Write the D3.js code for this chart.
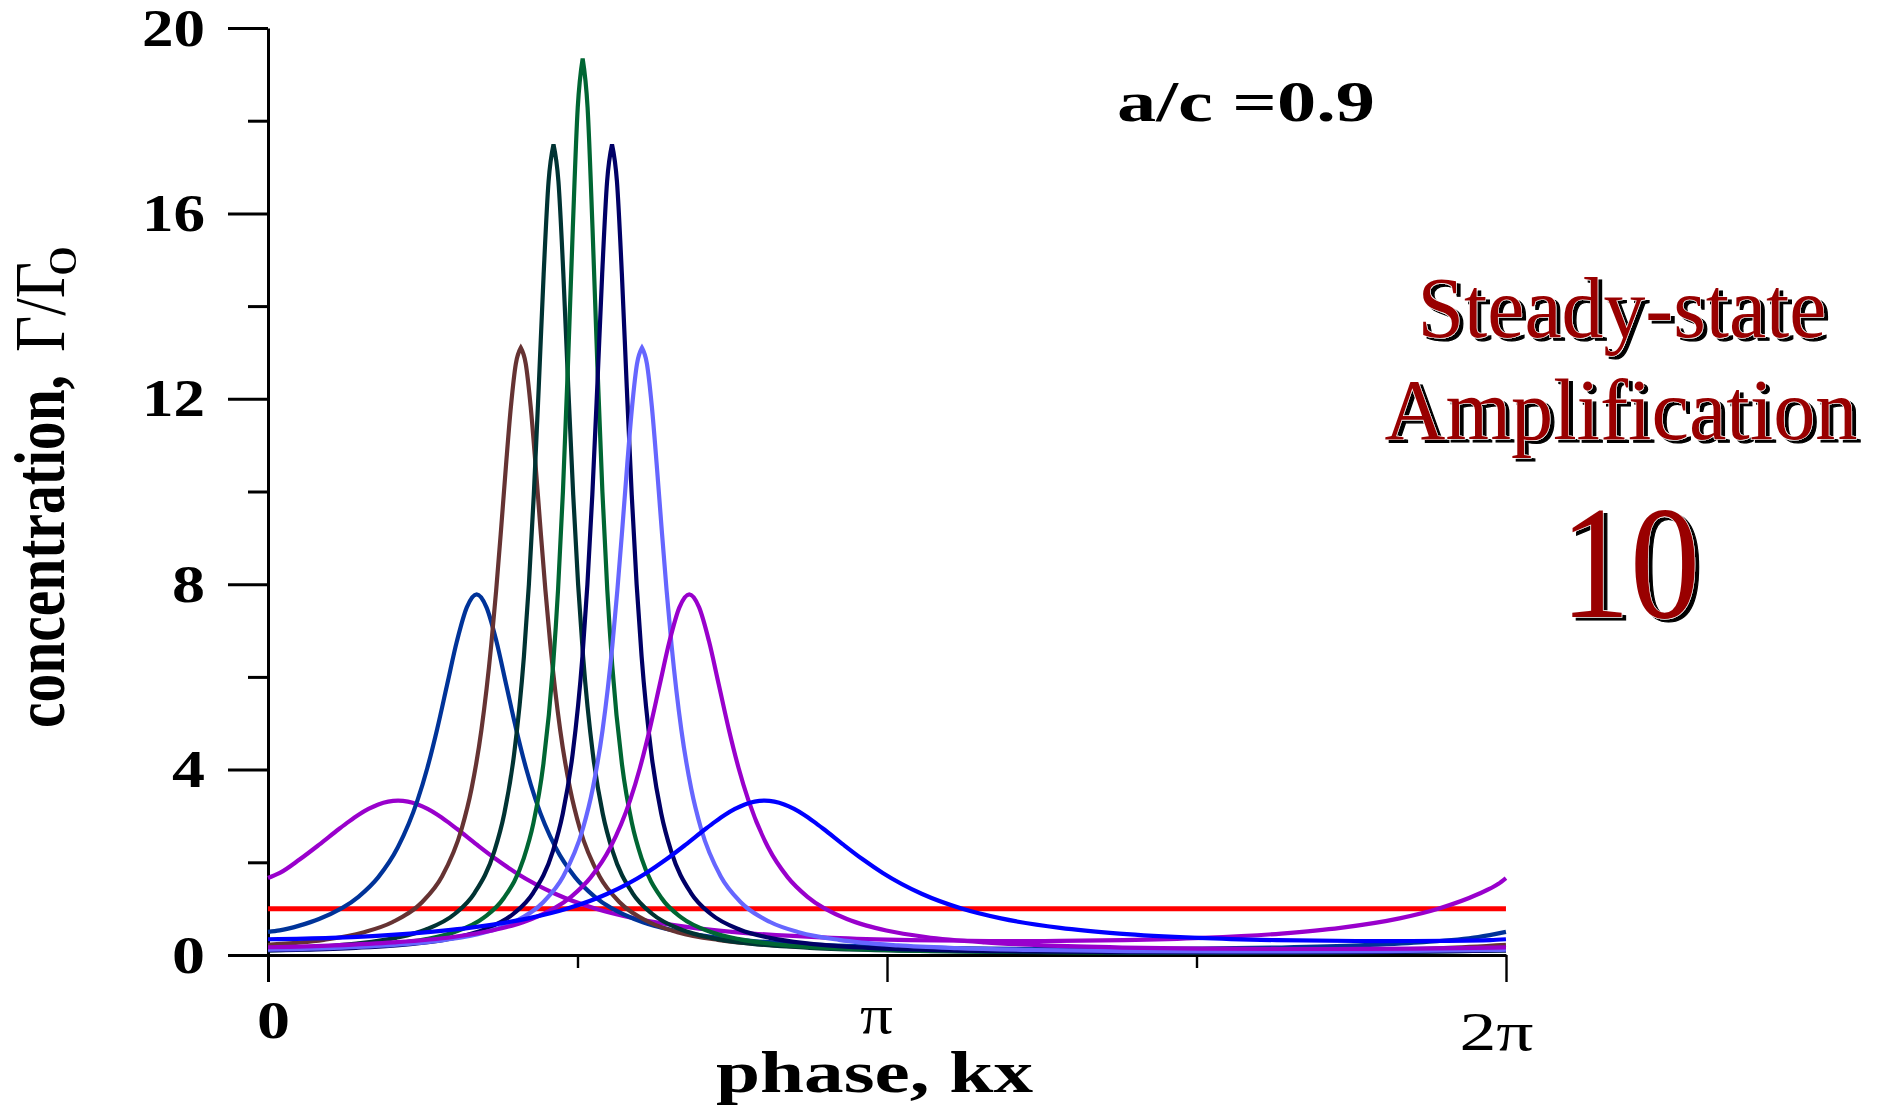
<!DOCTYPE html>
<html>
<head>
<meta charset="utf-8">
<script src="https://cdn.jsdelivr.net/npm/d3@7"></script>
<style>
  html, body { margin: 0; padding: 0; background: #ffffff; }
  svg { display: block; }
</style>
</head>
<body>
<svg id="chart" width="1879" height="1110"></svg>
<script>
const TAU = 2 * Math.PI;

// Axis ticks
const phaseMajorTicks = [0, Math.PI, TAU];
const phaseMajorLabels = ["0", "π", "2π"];
const phaseMinorTicks = [Math.PI / 2, 3 * Math.PI / 2];
const concMajorTicks = [0, 4, 8, 12, 16, 20];
const concMinorTicks = [2, 6, 10, 14, 18];

// Uniform reference level Γ/Γ0 = 1
const meanLevel = [[0, 1], [6.283, 1]];

// Concentration profiles [phase kx, Γ/Γ0], one per snapshot
const snapshot1 = [[0,1.66],[0.06,1.770],[0.16,2.059],[0.26,2.381],[0.36,2.718],[0.41,2.878],[0.46,3.026],[0.51,3.151],[0.56,3.248],[0.61,3.309],[0.66,3.330],[0.71,3.309],[0.76,3.248],[0.81,3.151],[0.86,3.026],[0.91,2.878],[0.96,2.718],[1.06,2.381],[1.16,2.059],[1.26,1.770],[1.46,1.316],[1.66,1.003],[1.86,0.790],[2.16,0.586],[2.46,0.463],[2.86,0.369],[3.26,0.321],[3.66,0.302],[3.80,0.300],[3.943,0.302],[4.343,0.321],[4.743,0.369],[5.143,0.463],[5.443,0.586],[5.743,0.790],[5.943,1.003],[6.143,1.316],[6.243,1.53],[6.283,1.66]];
const snapshot2 = [[0,0.50],[0.059,0.530],[0.159,0.634],[0.259,0.776],[0.459,1.255],[0.559,1.675],[0.659,2.323],[0.759,3.340],[0.809,4.041],[0.859,4.883],[0.909,5.831],[0.959,6.773],[1.009,7.500],[1.059,7.78],[1.109,7.500],[1.159,6.773],[1.209,5.831],[1.259,4.883],[1.309,4.041],[1.359,3.340],[1.459,2.323],[1.559,1.675],[1.659,1.255],[1.859,0.776],[1.959,0.634],[2.059,0.530],[2.259,0.389],[2.559,0.272],[2.859,0.207],[3.259,0.161],[3.659,0.138],[4.059,0.129],[4.201,0.129],[4.342,0.129],[4.742,0.138],[5.142,0.161],[5.542,0.207],[5.842,0.272],[6.142,0.389],[6.283,0.50]];
const snapshot3 = [[0,0.22],[0.283,0.326],[0.483,0.487],[0.633,0.712],[0.783,1.145],[0.883,1.693],[0.983,2.723],[1.033,3.587],[1.083,4.851],[1.133,6.691],[1.158,7.866],[1.183,9.187],[1.208,10.57],[1.233,11.84],[1.258,12.76],[1.283,13.10],[1.308,12.76],[1.333,11.84],[1.358,10.57],[1.383,9.187],[1.408,7.866],[1.433,6.691],[1.483,4.851],[1.533,3.587],[1.583,2.723],[1.683,1.693],[1.783,1.145],[1.933,0.712],[2.083,0.487],[2.283,0.326],[2.583,0.206],[2.883,0.148],[3.283,0.108],[3.783,0.085],[4.283,0.077],[4.425,0.076],[4.566,0.077],[5.066,0.085],[5.566,0.108],[5.966,0.148],[6.283,0.22]];
const snapshot4 = [[0,0.130],[0.149,0.155],[0.449,0.246],[0.649,0.370],[0.799,0.545],[0.949,0.890],[1.049,1.342],[1.149,2.240],[1.199,3.048],[1.249,4.331],[1.299,6.450],[1.324,7.989],[1.349,9.928],[1.374,12.24],[1.399,14.69],[1.424,16.69],[1.449,17.49],[1.474,16.69],[1.499,14.69],[1.524,12.24],[1.549,9.928],[1.574,7.989],[1.599,6.450],[1.649,4.331],[1.699,3.048],[1.749,2.240],[1.849,1.342],[1.949,0.890],[2.099,0.545],[2.249,0.370],[2.449,0.246],[2.749,0.155],[3.049,0.111],[3.449,0.081],[3.949,0.064],[4.449,0.058],[4.591,0.057],[4.732,0.058],[5.232,0.064],[5.732,0.081],[6.132,0.111],[6.283,0.130]];
const snapshot5 = [[0,0.100],[0.297,0.141],[0.597,0.223],[0.797,0.336],[0.947,0.495],[1.097,0.811],[1.197,1.229],[1.297,2.072],[1.347,2.844],[1.397,4.098],[1.447,6.248],[1.472,7.875],[1.497,10.01],[1.522,12.69],[1.547,15.68],[1.572,18.28],[1.597,19.34],[1.622,18.28],[1.647,15.68],[1.672,12.69],[1.697,10.01],[1.722,7.875],[1.747,6.248],[1.797,4.098],[1.847,2.844],[1.897,2.072],[1.997,1.229],[2.097,0.811],[2.247,0.495],[2.397,0.336],[2.597,0.223],[2.897,0.141],[3.197,0.100],[3.597,0.073],[4.097,0.057],[4.597,0.052],[4.739,0.052],[4.880,0.052],[5.380,0.057],[5.880,0.073],[6.283,0.100]];
const snapshot6 = [[0,0.097],[0.146,0.111],[0.446,0.155],[0.746,0.246],[0.946,0.370],[1.096,0.545],[1.246,0.890],[1.346,1.342],[1.446,2.240],[1.496,3.048],[1.546,4.331],[1.596,6.450],[1.621,7.989],[1.646,9.928],[1.671,12.24],[1.696,14.69],[1.721,16.69],[1.746,17.49],[1.771,16.69],[1.796,14.69],[1.821,12.24],[1.846,9.928],[1.871,7.989],[1.896,6.450],[1.946,4.331],[1.996,3.048],[2.046,2.240],[2.146,1.342],[2.246,0.890],[2.396,0.545],[2.546,0.370],[2.746,0.246],[3.046,0.155],[3.346,0.111],[3.746,0.081],[4.246,0.064],[4.746,0.058],[4.888,0.057],[5.029,0.058],[5.529,0.064],[6.029,0.081],[6.283,0.097]];
const snapshot7 = [[0,0.115],[0.298,0.148],[0.598,0.206],[0.898,0.326],[1.098,0.487],[1.248,0.712],[1.398,1.145],[1.498,1.693],[1.598,2.723],[1.648,3.587],[1.698,4.851],[1.748,6.691],[1.773,7.866],[1.798,9.187],[1.823,10.57],[1.848,11.84],[1.873,12.76],[1.898,13.10],[1.923,12.76],[1.948,11.84],[1.973,10.57],[1.998,9.187],[2.023,7.866],[2.048,6.691],[2.098,4.851],[2.148,3.587],[2.198,2.723],[2.298,1.693],[2.398,1.145],[2.548,0.712],[2.698,0.487],[2.898,0.326],[3.198,0.206],[3.498,0.148],[3.898,0.108],[4.398,0.085],[4.898,0.077],[5.040,0.076],[5.181,0.077],[5.681,0.085],[6.181,0.108],[6.283,0.115]];
const snapshot8 = [[0,0.167],[0.338,0.207],[0.638,0.272],[0.938,0.389],[1.138,0.530],[1.238,0.634],[1.338,0.776],[1.538,1.255],[1.638,1.675],[1.738,2.323],[1.838,3.340],[1.888,4.041],[1.938,4.883],[1.988,5.831],[2.038,6.773],[2.088,7.500],[2.138,7.78],[2.188,7.500],[2.238,6.773],[2.288,5.831],[2.338,4.883],[2.388,4.041],[2.438,3.340],[2.538,2.323],[2.638,1.675],[2.738,1.255],[2.938,0.776],[3.038,0.634],[3.138,0.530],[3.338,0.389],[3.638,0.272],[3.938,0.207],[4.338,0.161],[4.738,0.138],[5.138,0.129],[5.280,0.129],[5.421,0.129],[5.821,0.138],[6.221,0.161],[6.283,0.167]];
const snapshot9 = [[0,0.34],[0.32,0.369],[0.72,0.463],[1.02,0.586],[1.32,0.790],[1.52,1.003],[1.72,1.316],[1.92,1.770],[2.02,2.059],[2.12,2.381],[2.22,2.718],[2.27,2.878],[2.32,3.026],[2.37,3.151],[2.42,3.248],[2.47,3.309],[2.52,3.330],[2.57,3.309],[2.62,3.248],[2.67,3.151],[2.72,3.026],[2.77,2.878],[2.82,2.718],[2.92,2.381],[3.02,2.059],[3.12,1.770],[3.32,1.316],[3.52,1.003],[3.72,0.790],[4.02,0.586],[4.32,0.463],[4.72,0.369],[5.12,0.321],[5.52,0.302],[5.66,0.300],[5.803,0.302],[6.203,0.321],[6.283,0.34]];

const snapshots = [snapshot1, snapshot2, snapshot3, snapshot4, snapshot5, snapshot6, snapshot7, snapshot8, snapshot9];
const snapshotColors = ["#9900cc", "#003399", "#663333", "#003333", "#006633", "#000066", "#6666ff", "#9900cc", "#0000ff"];
// narrow, tall profiles keep a pointed crest
const snapshotSharp = [false, false, true, true, true, true, true, false, false];

const serif = "'Liberation Serif', 'Times New Roman', Times, serif";
const svg = d3.select("#chart");

// drop shadow for the red banner text
const defs = svg.append("defs");
const shadow = defs.append("filter").attr("id", "banner-shadow")
  .attr("x", "-10%").attr("y", "-10%").attr("width", "120%").attr("height", "130%");
shadow.append("feOffset").attr("in", "SourceAlpha").attr("dx", 4).attr("dy", 3).attr("result", "off");
shadow.append("feFlood").attr("flood-color", "#000000").attr("result", "ink");
shadow.append("feComposite").attr("in", "ink").attr("in2", "off").attr("operator", "in").attr("result", "drop");
const merge = shadow.append("feMerge");
merge.append("feMergeNode").attr("in", "drop");
merge.append("feMergeNode").attr("in", "SourceGraphic");

const x = d3.scaleLinear().domain([0, TAU]).range([268, 1506]);
const y = d3.scaleLinear().domain([0, 20]).range([955, 28]);

// ---- y axis: long labelled ticks plus short minor ticks
const gy = svg.append("g")
  .attr("transform", `translate(${x(0)},0)`)
  .call(d3.axisLeft(y).tickValues(concMajorTicks).tickSize(40).tickPadding(23)
    .tickSizeOuter(0).tickFormat(d3.format("d")));
gy.select(".domain").attr("stroke", "#000").attr("stroke-width", 3);
gy.selectAll(".tick line").attr("stroke", "#000").attr("stroke-width", 3);
gy.selectAll(".tick text")
  .attr("fill", "#000")
  .attr("font-family", serif)
  .attr("font-weight", "bold")
  .attr("font-size", 52)
  .attr("dy", "0.33em")
  .each(function (d) {
    const w = String(d).length > 1 ? 63 : 33;
    d3.select(this).attr("text-anchor", "start").attr("x", -63 - w)
      .attr("textLength", w).attr("lengthAdjust", "spacingAndGlyphs");
  });

const gyMinor = svg.append("g")
  .attr("transform", `translate(${x(0)},0)`)
  .call(d3.axisLeft(y).tickValues(concMinorTicks).tickSize(20).tickSizeOuter(0).tickFormat(""));
gyMinor.select(".domain").remove();
gyMinor.selectAll(".tick line").attr("stroke", "#000").attr("stroke-width", 3);

// ---- x axis
const gx = svg.append("g")
  .attr("transform", `translate(0,${y(0)})`)
  .call(d3.axisBottom(x).tickValues(phaseMajorTicks).tickSize(27).tickSizeOuter(0)
    .tickFormat((d, i) => phaseMajorLabels[i]));
gx.select(".domain").attr("stroke", "#000").attr("stroke-width", 3);
gx.selectAll(".tick line").attr("stroke", "#000").attr("stroke-width", 2.4);
gx.selectAll(".tick line").filter((d, i) => i === 0).attr("stroke-width", 3);

const xLabelStyle = [
  { weight: "bold", size: 52, dx: 5, base: 83, w: 33 },
  { weight: "normal", size: 55, dx: -11, base: 78, w: 33 },
  { weight: "normal", size: 55, dx: -10, base: 95, w: 74 }
];
gx.selectAll(".tick text").each(function (d, i) {
  const s = xLabelStyle[i];
  d3.select(this)
    .attr("fill", "#000")
    .attr("font-family", serif)
    .attr("font-weight", s.weight)
    .attr("font-size", s.size)
    .attr("text-anchor", "middle")
    .attr("x", s.dx).attr("y", s.base).attr("dy", 0)
    .attr("textLength", s.w).attr("lengthAdjust", "spacingAndGlyphs");
});

const gxMinor = svg.append("g")
  .attr("transform", `translate(0,${y(0)})`)
  .call(d3.axisBottom(x).tickValues(phaseMinorTicks).tickSize(13).tickSizeOuter(0).tickFormat(""));
gxMinor.select(".domain").remove();
gxMinor.selectAll(".tick line").attr("stroke", "#000").attr("stroke-width", 2.4);

// ---- curves
const smoothLine = d3.line()
  .x(d => x(d[0]))
  .y(d => y(d[1]))
  .curve(d3.curveMonotoneX);

// A sharp profile is smoothed on each flank separately and the two flanks are
// joined at the crest, so the crest is a corner instead of a flat cap.
function crestedPath(points) {
  const k = d3.maxIndex(points, d => d[1]);
  const rise = smoothLine(points.slice(0, k + 1));
  const fall = smoothLine(points.slice(k)).replace(/^M[^CL]*/, "");
  return rise + fall;
}

svg.append("path")
  .datum(meanLevel)
  .attr("d", smoothLine)
  .attr("fill", "none")
  .attr("stroke", "#ff0000")
  .attr("stroke-width", 5);

snapshots.forEach((s, i) => {
  svg.append("path")
    .datum(s)
    .attr("d", snapshotSharp[i] ? crestedPath(s) : smoothLine(s))
    .attr("fill", "none")
    .attr("stroke", snapshotColors[i])
    .attr("stroke-width", 4.2)
    .attr("stroke-linejoin", "miter")
    .attr("stroke-miterlimit", 2.5);
});

// ---- axis titles
svg.append("text")
  .attr("x", 716).attr("y", 1092)
  .attr("font-family", serif).attr("font-weight", "bold").attr("font-size", 59)
  .attr("textLength", 317).attr("lengthAdjust", "spacingAndGlyphs")
  .text("phase, kx");

const yTitle = svg.append("g").attr("transform", "translate(64,728) rotate(-90)");
yTitle.append("text")
  .attr("x", 0).attr("y", 0)
  .attr("font-family", serif).attr("font-weight", "bold").attr("font-size", 72)
  .attr("textLength", 353).attr("lengthAdjust", "spacingAndGlyphs")
  .text("concentration,");
yTitle.append("text")
  .attr("x", 376).attr("y", 0)
  .attr("font-family", serif).attr("font-size", 72)
  .attr("textLength", 90).attr("lengthAdjust", "spacingAndGlyphs")
  .text("Γ/Γ");
yTitle.append("text")
  .attr("x", 452).attr("y", 12)
  .attr("font-family", serif).attr("font-size", 40)
  .attr("textLength", 30).attr("lengthAdjust", "spacingAndGlyphs")
  .text("0");

// ---- annotations
svg.append("text")
  .attr("x", 1117).attr("y", 121)
  .attr("font-family", serif).attr("font-weight", "bold").attr("font-size", 56)
  .attr("textLength", 258).attr("lengthAdjust", "spacingAndGlyphs")
  .text("a/c =0.9");

const banner = [
  { text: "Steady-state", cx: 1622, base: 337, size: 86, w: 409 },
  { text: "Amplification", cx: 1621, base: 439, size: 86, w: 473 },
  { text: "10", cx: 1630, base: 617, size: 160, w: 140 }
];
banner.forEach(b => {
  svg.append("text")
    .attr("x", b.cx).attr("y", b.base)
    .attr("text-anchor", "middle")
    .attr("font-family", serif).attr("font-size", b.size)
    .attr("textLength", b.w).attr("lengthAdjust", "spacingAndGlyphs")
    .attr("fill", "#990000")
    .attr("stroke", "#ffffff").attr("stroke-width", 1.2)
    .attr("paint-order", "stroke")
    .attr("filter", "url(#banner-shadow)")
    .text(b.text);
});
</script>
</body>
</html>
